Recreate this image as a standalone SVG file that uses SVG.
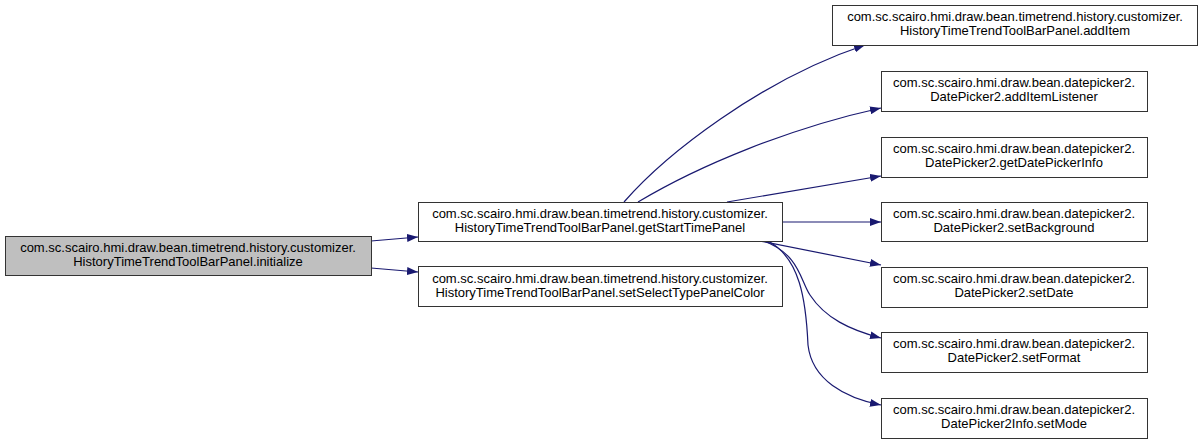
<svg xmlns="http://www.w3.org/2000/svg" width="1203" height="444" viewBox="0 0 1203 444">
<style>
.n rect{fill:#ffffff;stroke:#333333;stroke-width:1}
.n.root rect{fill:#bfbfbf}
.n text{font-family:"Liberation Sans",Arial,sans-serif;font-size:13px;fill:#000;text-anchor:middle}
.e path{fill:none;stroke:#191970;stroke-width:1.2}
</style>
<defs>
<marker id="ah" markerUnits="userSpaceOnUse" markerWidth="11" markerHeight="8" refX="11" refY="4" orient="auto">
<path d="M0,0 L11,4 L0,8 z" fill="#191970"/>
</marker>
</defs>
<rect width="1203" height="444" fill="#ffffff"/>
<g id="edges" class="e">
<path d="M371,241 L418,237" marker-end="url(#ah)"/>
<path d="M371,268 L418,272" marker-end="url(#ah)"/>
<path d="M624,202 C665,155 760,80 865,45" marker-end="url(#ah)"/>
<path d="M638,202 C700,165 790,128 881,108" marker-end="url(#ah)"/>
<path d="M727,202 L881,176" marker-end="url(#ah)"/>
<path d="M782,222 L881,222" marker-end="url(#ah)"/>
<path d="M760,241 L881,265" marker-end="url(#ah)"/>
<path d="M764,241 C800,255 800,280 810,295 C825,318 850,330 881,338" marker-end="url(#ah)"/>
<path d="M768,241 C800,258 806,300 808,345 C812,380 845,398 881,405" marker-end="url(#ah)"/>
</g>
<g id="node-initialize" class="n root">
<rect x="5.5" y="236.5" width="366" height="39"/>
<text x="188" y="252">com.sc.scairo.hmi.draw.bean.timetrend.history.customizer.</text>
<text x="188" y="266">HistoryTimeTrendToolBarPanel.initialize</text>
</g>
<g id="node-getStartTimePanel" class="n">
<rect x="418.5" y="202.5" width="364" height="39"/>
<text x="600" y="218">com.sc.scairo.hmi.draw.bean.timetrend.history.customizer.</text>
<text x="600" y="232">HistoryTimeTrendToolBarPanel.getStartTimePanel</text>
</g>
<g id="node-setSelectTypePanelColor" class="n">
<rect x="418.5" y="266.5" width="364" height="40"/>
<text x="600" y="283">com.sc.scairo.hmi.draw.bean.timetrend.history.customizer.</text>
<text x="600" y="297">HistoryTimeTrendToolBarPanel.setSelectTypePanelColor</text>
</g>
<g id="node-addItem" class="n">
<rect x="832.5" y="5.5" width="365" height="40"/>
<text x="1015" y="21">com.sc.scairo.hmi.draw.bean.timetrend.history.customizer.</text>
<text x="1015" y="35">HistoryTimeTrendToolBarPanel.addItem</text>
</g>
<g id="node-addItemListener" class="n">
<rect x="881.5" y="71.5" width="266" height="40"/>
<text x="1014" y="87">com.sc.scairo.hmi.draw.bean.datepicker2.</text>
<text x="1014" y="101">DatePicker2.addItemListener</text>
</g>
<g id="node-getDatePickerInfo" class="n">
<rect x="881.5" y="137.5" width="266" height="40"/>
<text x="1014" y="153">com.sc.scairo.hmi.draw.bean.datepicker2.</text>
<text x="1014" y="167">DatePicker2.getDatePickerInfo</text>
</g>
<g id="node-setBackground" class="n">
<rect x="881.5" y="202.5" width="266" height="39"/>
<text x="1014" y="218">com.sc.scairo.hmi.draw.bean.datepicker2.</text>
<text x="1014" y="232">DatePicker2.setBackground</text>
</g>
<g id="node-setDate" class="n">
<rect x="881.5" y="267.5" width="266" height="40"/>
<text x="1014" y="283">com.sc.scairo.hmi.draw.bean.datepicker2.</text>
<text x="1014" y="297">DatePicker2.setDate</text>
</g>
<g id="node-setFormat" class="n">
<rect x="881.5" y="332.5" width="266" height="40"/>
<text x="1014" y="348">com.sc.scairo.hmi.draw.bean.datepicker2.</text>
<text x="1014" y="362">DatePicker2.setFormat</text>
</g>
<g id="node-setMode" class="n">
<rect x="881.5" y="398.5" width="266" height="40"/>
<text x="1014" y="414">com.sc.scairo.hmi.draw.bean.datepicker2.</text>
<text x="1014" y="428">DatePicker2Info.setMode</text>
</g>
</svg>
